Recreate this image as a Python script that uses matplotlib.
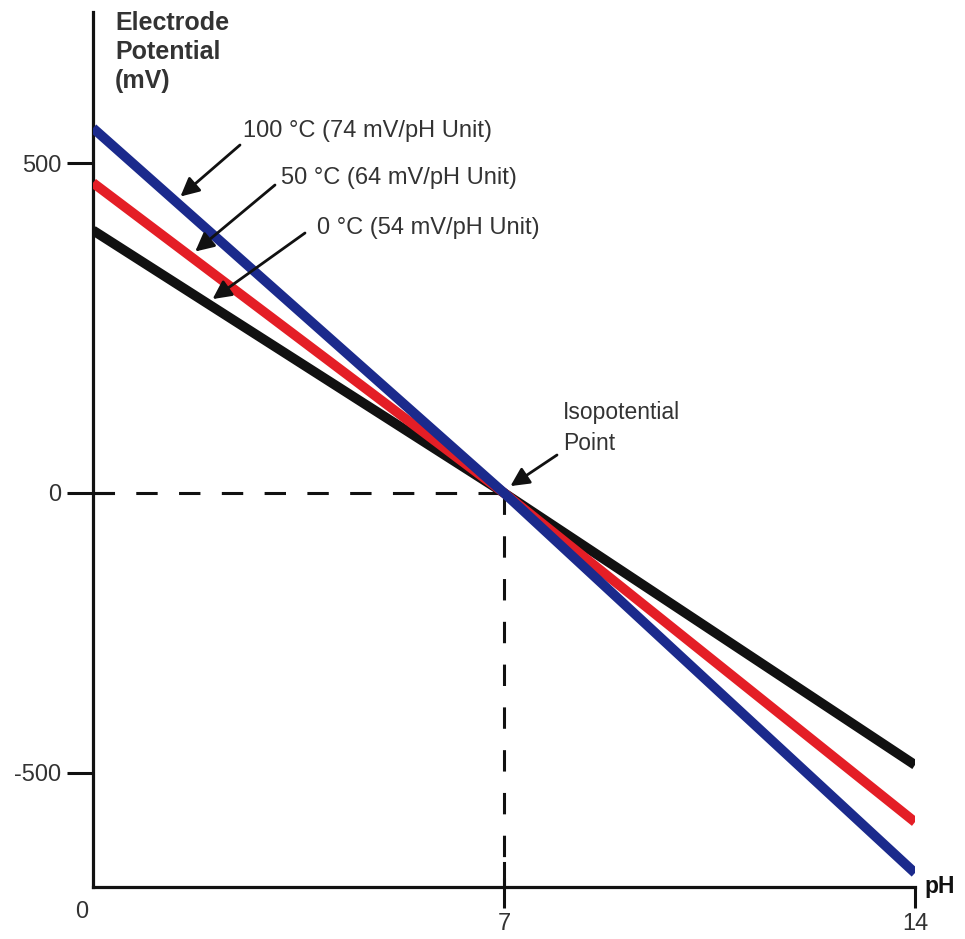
import numpy as np
import matplotlib.pyplot as plt

plt.rcParams['font.family'] = ['Liberation Sans', 'DejaVu Sans']

# pH values and electrode potential (mV)
ph = [0, 7, 14]
mv_0c = [398, 0, -486]
mv_50c = [470, 0, -588]
mv_100c = [553, 0, -679]

labels = ['0 °C (54 mV/pH Unit)', '50 °C (64 mV/pH Unit)', '100 °C (74 mV/pH Unit)']
colors = ['#111111', '#e41e26', '#1b2a8c']
y_ticks = [500, 0, -500]
x_ticks = [7, 14]
iso_ph = 7

text_col = '#333333'


# the source drawing is not linear: the part above 0 is stretched more than below
def fwd(v):
    v = np.asarray(v, dtype=float)
    return np.where(v >= 0, v * 0.66, v * 0.56)


def inv(v):
    v = np.asarray(v, dtype=float)
    return np.where(v >= 0, v / 0.66, v / 0.56)


W, H = 965, 939
fig = plt.figure(figsize=(W / 100, H / 100), dpi=100)
ax = fig.add_axes([93 / W, 1 - 887 / H, (915 - 93) / W, (887 - 12) / H])
ax.set_yscale('function', functions=(fwd, inv))
ax.set_xlim(0, 14)
ax.set_ylim(-704, 729)

for series, c in zip([mv_0c, mv_50c, mv_100c], colors):
    ax.plot(ph, series, color=c, lw=7, solid_capstyle='butt', zorder=3)

# dashed guides to the isopotential point
ax.plot([0, iso_ph], [0, 0], color='#111111', lw=2.2, dashes=(7, 7), zorder=2)
ax.plot([iso_ph, iso_ph], [0, ax.get_ylim()[0]], color='#111111', lw=2.2, dashes=(7, 7), zorder=2)
ax.axhline(0, xmin=0, xmax=0.024, color='#111111', lw=2.2, zorder=2)
ax.axvline(iso_ph, ymin=0, ymax=0.028, color='#111111', lw=2.2, zorder=2)

for s in ['top', 'right']:
    ax.spines[s].set_visible(False)
for s in ['left', 'bottom']:
    ax.spines[s].set_linewidth(2.3)
    ax.spines[s].set_color('#111111')

ax.set_yticks(y_ticks)
ax.set_yticklabels([str(t) for t in y_ticks])
ax.set_xticks(x_ticks)
ax.set_xticklabels([str(t) for t in x_ticks])
ax.tick_params(axis='y', direction='out', length=19, width=2.2, pad=4,
               labelsize=17, labelcolor=text_col, color='#111111')
ax.tick_params(axis='x', direction='out', length=15, width=2.2, pad=4,
               labelsize=17, labelcolor=text_col, color='#111111')
ax.annotate('0', xy=(0, 0), xycoords='axes fraction', xytext=(-11, -25),
            textcoords='offset pixels', ha='center', va='center', fontsize=17, color=text_col)
ax.annotate('pH', xy=(1, 0), xycoords='axes fraction', xytext=(25, 0),
            textcoords='offset pixels', ha='center', va='center', fontsize=16.5,
            fontweight='bold', color='#111111')

# axis title
for i, t in enumerate(['Electrode', 'Potential', '(mV)']):
    fig.text(115 / W, 1 - (23 + 29 * i) / H, t, ha='left', va='center',
             fontsize=18, fontweight='bold', color=text_col)

# temperature labels with arrows to the lines
tip_ph = [1.94, 1.65, 1.40]
tails = [(305, 706), (275, 754), (240, 794)]
text_pos = [(317, 711), (281, 761), (243, 808)]
for lab, series, tp, tail, pos in zip(labels, [mv_0c, mv_50c, mv_100c], tip_ph, tails, text_pos):
    tip_y = np.interp(tp, ph, series)
    ax.annotate('', xy=(tp, tip_y), xycoords='data', xytext=tail, textcoords='figure pixels',
                arrowprops=dict(arrowstyle='-|>', color='#111111', lw=2,
                                mutation_scale=28, shrinkA=0, shrinkB=5))
    fig.text(pos[0] / W, pos[1] / H, lab, ha='left', va='center', fontsize=17, color=text_col)

ax.annotate('', xy=(iso_ph + 0.07, 8), xycoords='data', xytext=(557, 484), textcoords='figure pixels',
            arrowprops=dict(arrowstyle='-|>', color='#111111', lw=2,
                            mutation_scale=28, shrinkA=0, shrinkB=2))
fig.text(563 / W, 1 - 413 / H, 'Isopotential', ha='left', va='center', fontsize=16.5, color=text_col)
fig.text(563 / W, 1 - 443 / H, 'Point', ha='left', va='center', fontsize=16.5, color=text_col)

fig.savefig('out.png', dpi=100)
